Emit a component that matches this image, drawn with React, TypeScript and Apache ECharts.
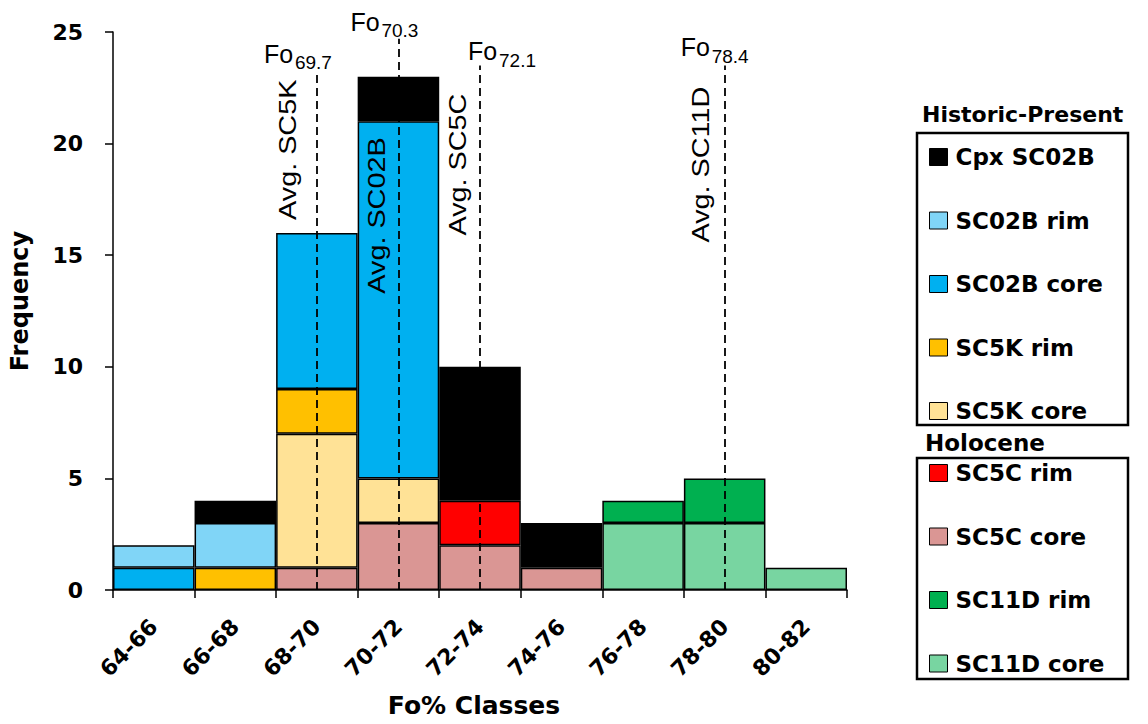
import React, { useEffect, useRef } from 'react';
import * as echarts from 'echarts';

// Fo% classes (x axis)
const classes = ['64-66', '66-68', '68-70', '70-72', '72-74', '74-76', '76-78', '78-80', '80-82'];

// Olivine counts per class, one array per sample group
const sc11dCore = [0, 0, 0, 0, 0, 0, 3, 3, 1];
const sc11dRim = [0, 0, 0, 0, 0, 0, 1, 2, 0];
const sc5cCore = [0, 0, 1, 3, 2, 1, 0, 0, 0];
const sc5cRim = [0, 0, 0, 0, 2, 0, 0, 0, 0];
const sc5kCore = [0, 0, 6, 2, 0, 0, 0, 0, 0];
const sc5kRim = [0, 1, 2, 0, 0, 0, 0, 0, 0];
const sc02bCore = [1, 0, 7, 16, 0, 0, 0, 0, 0];
const sc02bRim = [1, 2, 0, 0, 0, 0, 0, 0, 0];
const cpxSc02b = [0, 1, 0, 2, 6, 2, 0, 0, 0];

// Average Fo reference lines
const refClasses = ['68-70', '70-72', '72-74', '78-80'];
const refFo = ['69.7', '70.3', '72.1', '78.4'];
const refSamples = ['Avg. SC5K', 'Avg. SC02B', 'Avg. SC5C', 'Avg. SC11D'];
const refTops = [23.3, 24.7, 23.5, 23.5];

// Legend groups
const historicNames = ['Cpx SC02B', 'SC02B rim', 'SC02B core', 'SC5K rim', 'SC5K core'];
const holoceneNames = ['SC5C rim', 'SC5C core', 'SC11D rim', 'SC11D core'];

// label placement relative to the top of each reference line (px)
const refLabelLayout = [
  { foDx: -53, foDy: -16, avgDx: -16, avgDy: 150 },
  { foDx: -48, foDy: -17, avgDx: -8, avgDy: 255 },
  { foDx: -12, foDy: -14, avgDx: -9, avgDy: 170 },
  { foDx: -44, foDy: -18, avgDx: -11, avgDy: 177 },
];

const BOLD = '"DejaVu Sans", sans-serif';
const PLAIN = '"Liberation Sans", Arial, sans-serif';

const seriesDefs: { name: string; values: number[]; color: string }[] = [
  { name: 'SC11D core', values: sc11dCore, color: '#78D5A1' },
  { name: 'SC11D rim', values: sc11dRim, color: '#00B050' },
  { name: 'SC5C core', values: sc5cCore, color: '#DA9694' },
  { name: 'SC5C rim', values: sc5cRim, color: '#FF0000' },
  { name: 'SC5K core', values: sc5kCore, color: '#FFE296' },
  { name: 'SC5K rim', values: sc5kRim, color: '#FFC000' },
  { name: 'SC02B core', values: sc02bCore, color: '#00B0F0' },
  { name: 'SC02B rim', values: sc02bRim, color: '#80D5F7' },
  { name: 'Cpx SC02B', values: cpxSc02b, color: '#000000' },
];

export default function App() {
  const ref = useRef<HTMLDivElement>(null);

  useEffect(() => {
    if (!ref.current) return;
    const chart = echarts.init(ref.current, null, { renderer: 'svg' });

    const legendText = {
      fontFamily: BOLD,
      fontWeight: 'bold' as const,
      fontSize: 23,
      color: '#000',
      lineHeight: 24,
      padding: [0, 0, 0, 3],
    };

    const option: any = {
      animation: false,
      backgroundColor: '#fff',
      grid: { left: 112, right: 301, top: 32, bottom: 134 },
      xAxis: {
        type: 'category',
        data: classes,
        boundaryGap: true,
        axisLine: { lineStyle: { color: '#000', width: 1.5 } },
        axisTick: { show: true, length: 8, lineStyle: { color: '#000', width: 1.5 } },
        axisLabel: {
          interval: 0,
          rotate: 45,
          margin: 33,
          fontFamily: BOLD,
          fontWeight: 'bold',
          fontSize: 22,
          color: '#000',
        },
        name: 'Fo% Classes',
        nameLocation: 'middle',
        nameGap: 103,
        nameTextStyle: {
          fontFamily: BOLD,
          fontWeight: 'bold',
          fontSize: 25,
          color: '#000',
          padding: [0, 12, 0, 0],
        },
      },
      yAxis: {
        type: 'value',
        min: 0,
        max: 25,
        interval: 5,
        axisLine: { show: true, lineStyle: { color: '#000', width: 1.5 } },
        axisTick: { show: true, length: 8, lineStyle: { color: '#000', width: 1.5 } },
        splitLine: { show: false },
        axisLabel: {
          margin: 30,
          fontFamily: BOLD,
          fontWeight: 'bold',
          fontSize: 22,
          color: '#000',
        },
        name: 'Frequency',
        nameLocation: 'middle',
        nameGap: 81,
        nameTextStyle: {
          fontFamily: BOLD,
          fontWeight: 'bold',
          fontSize: 24,
          color: '#000',
          padding: [0, 0, 0, 20],
        },
      },
      legend: [
        {
          data: historicNames,
          orient: 'vertical',
          left: 929,
          top: 145,
          padding: 0,
          itemWidth: 18,
          itemHeight: 17,
          itemGap: 39.5,
          icon: 'rect',
          selectedMode: false,
          itemStyle: { borderColor: '#000', borderWidth: 1 },
          textStyle: legendText,
        },
        {
          data: holoceneNames,
          orient: 'vertical',
          left: 929,
          top: 461,
          padding: 0,
          itemWidth: 18,
          itemHeight: 17,
          itemGap: 39.5,
          icon: 'rect',
          selectedMode: false,
          itemStyle: { borderColor: '#000', borderWidth: 1 },
          textStyle: legendText,
        },
      ],
      series: [
        ...seriesDefs.map((s) => ({
          name: s.name,
          type: 'bar',
          stack: 'fo',
          barWidth: '100%',
          barCategoryGap: '0%',
          data: s.values.map((v) => (v === 0 ? '-' : v)),
          itemStyle: { color: s.color, borderColor: '#000', borderWidth: 1.5 },
          emphasis: { disabled: true },
        })),
        {
          name: 'avgFo',
          type: 'line',
          data: classes.map(() => '-'),
          z: 5,
          silent: true,
          markLine: {
            silent: true,
            symbol: ['none', 'none'],
            label: { show: false },
            lineStyle: { color: '#000', width: 1.8, type: [8, 5] },
            data: refClasses.map((c, i) => [
              { coord: [c, 0] },
              { coord: [c, refTops[i]] },
            ]),
          },
        },
      ],
    };

    chart.setOption(option);

    const graphics: any[] = [
      {
        type: 'rect',
        z: 100,
        shape: { x: 917, y: 133, width: 211, height: 292 },
        style: { fill: 'none', stroke: '#000', lineWidth: 2.5 },
        silent: true,
      },
      {
        type: 'rect',
        z: 100,
        shape: { x: 917, y: 458, width: 211, height: 221 },
        style: { fill: 'none', stroke: '#000', lineWidth: 2.5 },
        silent: true,
      },
      {
        type: 'text',
        z: 100,
        x: 922,
        y: 114,
        style: {
          text: 'Historic-Present',
          fontFamily: BOLD,
          fontWeight: 'bold',
          fontSize: 22,
          fill: '#000',
          align: 'left',
          verticalAlign: 'middle',
        },
        silent: true,
      },
      {
        type: 'text',
        z: 100,
        x: 925,
        y: 443,
        style: {
          text: 'Holocene',
          fontFamily: BOLD,
          fontWeight: 'bold',
          fontSize: 23,
          fill: '#000',
          align: 'left',
          verticalAlign: 'middle',
        },
        silent: true,
      },
    ];

    refClasses.forEach((c, i) => {
      const idx = classes.indexOf(c);
      const [px, pyTop] = chart.convertToPixel({ gridIndex: 0 }, [idx, refTops[i]]) as number[];
      const lay = refLabelLayout[i];
      const foX = px + lay.foDx;
      const foY = pyTop + lay.foDy;
      graphics.push({
        type: 'text',
        z: 100,
        x: foX,
        y: foY,
        style: {
          text: 'Fo',
          fontFamily: PLAIN,
          fontSize: 25,
          fill: '#000',
          align: 'left',
          verticalAlign: 'middle',
        },
        silent: true,
      });
      graphics.push({
        type: 'text',
        z: 100,
        x: foX + 31,
        y: foY + 9,
        style: {
          text: refFo[i],
          fontFamily: PLAIN,
          fontSize: 19,
          fill: '#000',
          align: 'left',
          verticalAlign: 'middle',
        },
        silent: true,
      });
      graphics.push({
        type: 'text',
        z: 100,
        x: px + lay.avgDx - 13.3,
        y: pyTop + lay.avgDy,
        rotation: Math.PI / 2,
        scaleX: 1.2,
        style: {
          text: refSamples[i],
          fontFamily: PLAIN,
          fontSize: 24,
          fill: '#000',
          align: 'left',
          verticalAlign: 'middle',
        },
        silent: true,
      });
    });

    chart.setOption({ graphic: graphics });

    return () => {
      chart.dispose();
    };
  }, []);

  return (
    <div
      ref={ref}
      style={{ position: 'fixed', left: 0, top: 0, width: 1148, height: 724, background: '#fff' }}
    />
  );
}
